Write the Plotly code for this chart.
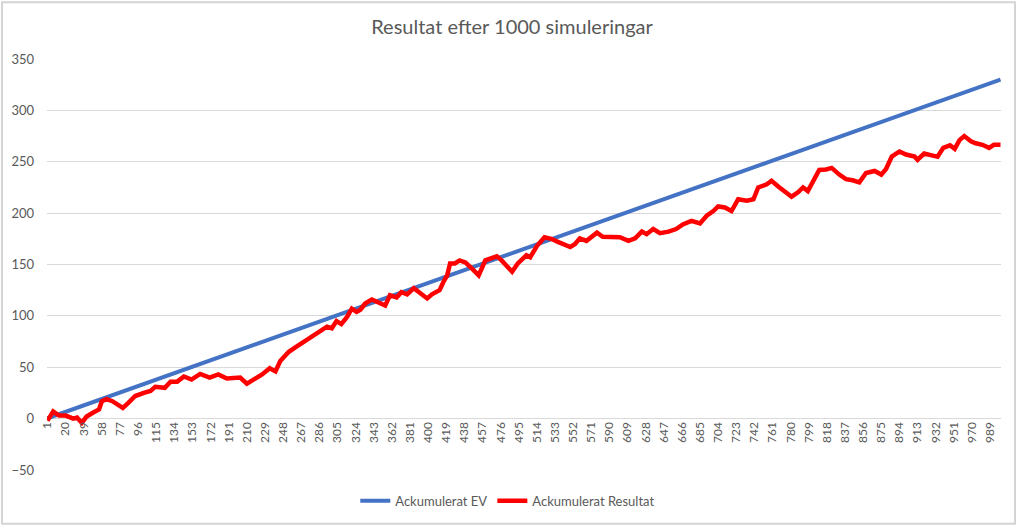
import plotly.graph_objects as go

# ---- data ----
ev_x = [1, 1000]
ev_y = [0.33, 330]

res_x = [1, 7, 13, 20, 28, 32, 37, 42, 49, 55, 58, 63, 69, 76, 80, 86, 93, 102, 109, 114,
         124, 130, 137, 144, 152, 161, 171, 180, 189, 203, 210, 217, 226, 234, 240, 245, 254, 262, 270, 276,
         287, 294, 299, 304, 309, 315, 320, 325, 329, 334, 341, 350, 355, 360, 367, 372, 378, 385, 392, 399,
         404, 412, 416, 420, 423, 428, 433, 439, 446, 453, 460, 465, 472, 477, 488, 494, 503, 507, 514, 522,
         529, 536, 549, 554, 559, 566, 577, 583, 594, 601, 610, 617, 624, 629, 636, 643, 652, 660, 667, 676,
         685, 692, 699, 704, 711, 718, 725, 734, 741, 746, 755, 760, 767, 774, 781, 788, 793, 798, 803, 810,
         817, 823, 831, 838, 845, 852, 859, 868, 875, 880, 886, 894, 901, 910, 913, 920, 929, 934, 940, 947,
         952, 957, 962, 969, 974, 981, 988, 993, 1000]
res_y = [-2, 7, 3, 3, 0, 1, -4, 2, 6, 9, 17, 19, 17, 13, 10.5, 15.5, 22, 25, 27, 31,
         30, 36, 36, 41, 38, 43.5, 40, 43, 39, 40, 34, 38, 43, 49, 46, 56, 65, 70, 75, 79,
         85, 89.5, 88, 95, 92, 99, 107, 104, 106, 112, 116, 112, 110, 120, 118, 123, 121, 127, 122, 117,
         121, 125, 133, 139.5, 151, 151, 154, 152, 146, 139.5, 154, 155.5, 158, 154, 143, 151, 159, 157, 168, 176.5,
         175, 172, 167, 170, 175.5, 173, 181, 177, 177, 176.5, 173, 175.5, 182, 179.5, 184.5, 180.5, 182, 184.5, 189, 192.5,
         190, 197.5, 202, 206.5, 205.5, 202, 213.5, 212, 213.5, 225, 228, 231.5, 226, 221.5, 216, 220.5, 225, 221.5, 231, 242,
         242.5, 244, 237.5, 233, 232, 230, 239, 241, 237.5, 243, 255, 260, 257, 255, 252, 258, 256, 255, 263.5, 266,
         262.5, 271, 275, 270, 268, 266.5, 263.5, 266.5, 266.5]

tick_vals = list(range(1, 1001, 19))
tick_text = [str(v) for v in tick_vals]
y_ticks = [-50, 0, 50, 100, 150, 200, 250, 300, 350]

TXT = "#595959"
GRID = "#d9d9d9"

fig = go.Figure()
fig.add_trace(go.Scatter(x=ev_x, y=ev_y, mode="lines", name="Ackumulerat EV",
                         line=dict(color="#4472C4", width=4)))
fig.add_trace(go.Scatter(x=res_x, y=res_y, mode="lines", name="Ackumulerat Resultat",
                         line=dict(color="#FF0000", width=4.5)))

fig.update_layout(
    width=1024, height=528,
    margin=dict(l=47, r=23, t=59, b=56),
    paper_bgcolor="white", plot_bgcolor="white",
    font=dict(family="Lato", color=TXT, size=12),
    title=dict(text="Resultat efter 1000 simuleringar", x=0.5, xanchor="center",
               y=1 - 27 / 528, yanchor="middle",
               font=dict(family="Lato", size=20, color=TXT)),
    showlegend=True,
    legend=dict(orientation="h", x=0.483, xanchor="center", y=-0.075, yanchor="middle",
                font=dict(family="Lato", size=13, color=TXT), bgcolor="rgba(0,0,0,0)"),
    xaxis=dict(range=[0.5, 1000.5], tickmode="array", tickvals=tick_vals, ticktext=tick_text,
               tickangle=-90, showgrid=False, zeroline=False,
               showline=False, anchor="free", position=0.125,
               tickfont=dict(family="Lato", size=12, color=TXT), ticks=""),
    yaxis=dict(range=[-50, 350], tickvals=y_ticks, showgrid=True, gridcolor=GRID, gridwidth=1.3,
               zeroline=True, zerolinecolor=GRID, zerolinewidth=1.3, showline=False,
               tickfont=dict(family="Lato", size=13, color=TXT), ticks="", ticklabelstandoff=12),
    shapes=[dict(type="rect", xref="paper", yref="paper",
                 x0=-0.0472, x1=1.0147, y0=-0.1307, y1=1.138,
                 line=dict(color="#d4d4d4", width=2), layer="below")],
)

fig.write_html("out.html")
